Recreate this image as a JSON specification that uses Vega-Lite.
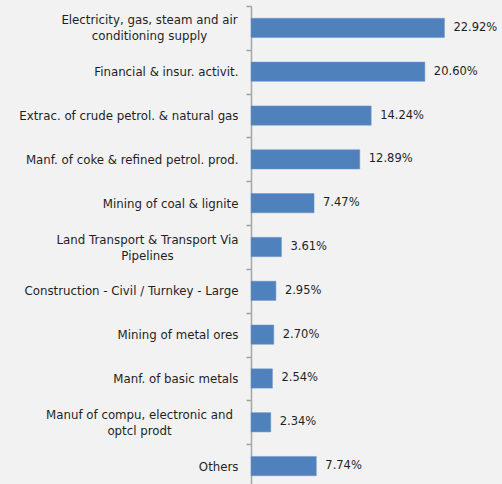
{
  "$schema": "https://vega.github.io/schema/vega-lite/v6.json",
  "autosize": "none",
  "width": 211,
  "height": 478,
  "padding": {"left": 251, "top": 6, "right": 40, "bottom": 0},
  "background": "#f2f2f2",
  "config": {"view": {"stroke": null}, "font": "DejaVu Sans"},
  "data": {"values": [
    {"sector": "Electricity, gas, steam and air|conditioning supply", "share": 0.2292},
    {"sector": "Financial & insur. activit.", "share": 0.2060},
    {"sector": "Extrac. of crude petrol. & natural gas", "share": 0.1424},
    {"sector": "Manf. of coke & refined petrol. prod.", "share": 0.1289},
    {"sector": "Mining of coal & lignite", "share": 0.0747},
    {"sector": "Land Transport & Transport Via|Pipelines", "share": 0.0361},
    {"sector": "Construction - Civil / Turnkey - Large", "share": 0.0295},
    {"sector": "Mining of metal ores", "share": 0.0270},
    {"sector": "Manf. of basic metals", "share": 0.0254},
    {"sector": "Manuf of compu, electronic and|optcl prodt", "share": 0.0234},
    {"sector": "Others", "share": 0.0774}
  ]},
  "encoding": {
    "y": {
      "field": "sector", "type": "nominal", "sort": null,
      "scale": {"paddingInner": 0, "paddingOuter": 0, "range": [0, 482]},
      "axis": {
        "title": null,
        "labelExpr": "split(datum.label, '|')",
        "labelFont": "DejaVu Sans",
        "labelFontSize": 11.8,
        "labelColor": "#1f1f1f",
        "labelLineHeight": 16,
        "labelPadding": {"condition": [
          {"test": "indexof(datum.label, 'Electricity') >= 0", "value": 97},
          {"test": "indexof(datum.label, 'Land Transport') >= 0", "value": 99},
          {"test": "indexof(datum.label, 'Manuf of compu') >= 0", "value": 107}
        ], "value": 8},
        "labelAlign": {"condition": {"test": "indexof(datum.label, '|') >= 0", "value": "center"}, "value": "right"},
        "labelOffset": {"condition": {"test": "indexof(datum.label, '|') >= 0", "value": -8}, "value": 0},
        "labelLimit": 260,
        "domainColor": "#a6a6a6",
        "domainWidth": 1.5,
        "tickColor": "#a0a0a0",
        "tickWidth": 1.5,
        "tickSize": 5,
        "tickBand": "extent",
        "grid": false
      }
    },
    "x": {
      "field": "share", "type": "quantitative",
      "scale": {"domain": [0, 0.25]},
      "axis": null
    }
  },
  "layer": [
    {"mark": {"type": "bar", "color": "#4f81bd", "stroke": "#6b95c8", "strokeWidth": 0.5, "height": {"band": 0.44}}},
    {"mark": {"type": "text", "align": "left", "dx": 9, "font": "DejaVu Sans", "fontSize": 11.5, "color": "#1f1f1f"},
     "encoding": {"text": {"field": "share", "type": "quantitative", "format": ".2%"}}}
  ]
}
